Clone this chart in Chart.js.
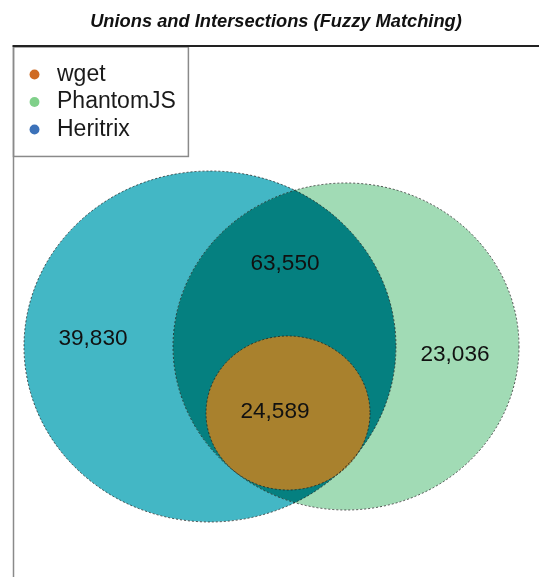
<!DOCTYPE html>
<html>
<head>
<meta charset="utf-8">
<script src="https://cdn.jsdelivr.net/npm/chart.js@4/dist/chart.umd.min.js"></script>
<style>
  html, body { margin: 0; padding: 0; background: #ffffff; }
  #wrap { width: 539px; height: 577px; }
</style>
</head>
<body>
<div id="wrap"><canvas id="c" width="539" height="577"></canvas></div>
<script>
// ---- data (Venn layout in data units, x 0..100 left->right, y 0..100 top->bottom) ----
const chartTitle = 'Unions and Intersections (Fuzzy Matching)';
const sets = ['wget', 'PhantomJS', 'Heritrix'];
const setCenterX = [52.28, 63.31, 37.45];
const setCenterY = [69.06, 56.51, 56.51];
const setRadiusX = [15.59, 32.89, 35.36];
const setRadiusY = [14.53, 30.85, 33.11];
const regionValues = [39830, 63550, 24589, 23036];
const regionX = [15.21, 51.71, 49.81, 84.03];
const regionY = [54.72, 40.57, 68.49, 57.83];

// ---- styles ----
const legendDotColors = ['#cf6a23', '#80d08a', '#3c72b9'];
const setFillColors = ['#a9812d', '#a1dbb5', '#43b7c5'];
const intersectionColor = '#058080';
const FONT = "'Liberation Sans', Arial, sans-serif";
const LEGEND_SIZE = 23;
const LABEL_SIZE = 22.6;
const LEGEND_PAD = 4.5;

function ellipsePath(ctx, chart, i) {
  const xs = chart.scales.x, ys = chart.scales.y;
  const cx = xs.getPixelForValue(setCenterX[i]);
  const cy = ys.getPixelForValue(setCenterY[i]);
  const rx = Math.abs(xs.getPixelForValue(setCenterX[i] + setRadiusX[i]) - cx);
  const ry = Math.abs(ys.getPixelForValue(setCenterY[i] + setRadiusY[i]) - cy);
  ctx.beginPath();
  ctx.ellipse(cx, cy, rx, ry, 0, 0, Math.PI * 2);
}

const vennPlugin = {
  id: 'venn',
  afterLayout(chart) {
    const lg = chart.legend, ca = chart.chartArea;
    lg.left = ca.left + 10.5 - LEGEND_PAD;
    lg.top = ca.top + 16 - LEGEND_PAD;
    lg.right = lg.left + lg.width;
    lg.bottom = lg.top + lg.height;
  },
  beforeDraw(chart) {
    const ctx = chart.ctx, ca = chart.chartArea;
    ctx.save();
    // frame
    ctx.strokeStyle = '#8a8a8a';
    ctx.lineWidth = 1.5;
    ctx.beginPath();
    ctx.moveTo(ca.left + 0.5, ca.top);
    ctx.lineTo(ca.left + 0.5, chart.height + 2);
    ctx.stroke();
    // legend box
    const lg = chart.legend;
    ctx.font = LEGEND_SIZE + 'px ' + FONT;
    let maxW = 0;
    sets.forEach(s => { maxW = Math.max(maxW, ctx.measureText(s).width); });
    const right = lg.left + LEGEND_PAD + 22 + LEGEND_SIZE / 2 + maxW + 12.5;
    const bottom = ca.top + 109.5;
    ctx.strokeRect(ca.left + 0.5, ca.top, right - ca.left - 0.5, bottom - ca.top);
    ctx.strokeStyle = '#222';
    ctx.lineWidth = 2;
    ctx.beginPath();
    ctx.moveTo(ca.left - 0.5, ca.top - 1);
    ctx.lineTo(chart.width + 2, ca.top - 1);
    ctx.stroke();
    ctx.restore();
  },
  beforeDatasetsDraw(chart) {
    const ctx = chart.ctx;
    ctx.save();
    // Heritrix, PhantomJS fills
    [2, 1].forEach(i => {
      ellipsePath(ctx, chart, i);
      ctx.fillStyle = setFillColors[i];
      ctx.fill();
    });
    // intersection of Heritrix & PhantomJS
    ctx.save();
    ellipsePath(ctx, chart, 2);
    ctx.clip();
    ellipsePath(ctx, chart, 1);
    ctx.fillStyle = intersectionColor;
    ctx.fill();
    ctx.restore();
    // wget
    ellipsePath(ctx, chart, 0);
    ctx.fillStyle = setFillColors[0];
    ctx.fill();
    // outlines
    ctx.setLineDash([2, 2]);
    ctx.lineWidth = 1;
    ctx.strokeStyle = 'rgba(30,30,30,0.75)';
    [2, 1, 0].forEach(i => { ellipsePath(ctx, chart, i); ctx.stroke(); });
    ctx.setLineDash([]);
    // region labels
    ctx.fillStyle = '#111';
    ctx.font = LABEL_SIZE + 'px ' + FONT;
    ctx.textAlign = 'center';
    ctx.textBaseline = 'alphabetic';
    regionValues.forEach((v, k) => {
      const px = chart.scales.x.getPixelForValue(regionX[k]);
      const py = chart.scales.y.getPixelForValue(regionY[k]);
      ctx.fillText(v.toLocaleString('en-US'), px, py + 8);
    });
    ctx.restore();
  }
};

new Chart(document.getElementById('c'), {
  type: 'scatter',
  data: {
    datasets: sets.map((s, i) => ({
      label: s,
      data: [{ x: setCenterX[i], y: setCenterY[i] }],
      backgroundColor: legendDotColors[i],
      borderColor: legendDotColors[i],
      borderWidth: 0,
      pointRadius: 0,
      pointHoverRadius: 0,
      pointStyle: 'circle'
    }))
  },
  options: {
    responsive: false,
    animation: false,
    events: [],
    layout: { padding: { left: 13, top: 0, right: 0, bottom: 0 } },
    scales: {
      x: { type: 'linear', min: 0, max: 100, display: false },
      y: { type: 'linear', min: 0, max: 100, reverse: true, display: false }
    },
    plugins: {
      title: {
        display: true,
        text: chartTitle,
        color: '#111',
        font: { family: FONT, size: 18.3, weight: 'bold', style: 'italic' },
        padding: { top: 10.5, bottom: 14.5 }
      },
      legend: {
        display: true,
        position: 'chartArea',
        align: 'start',
        labels: {
          usePointStyle: true,
          boxWidth: 22,
          boxHeight: 7,
          padding: LEGEND_PAD,
          color: '#1a1a1a',
          font: { family: FONT, size: LEGEND_SIZE }
        }
      },
      tooltip: { enabled: false }
    }
  },
  plugins: [vennPlugin]
});
</script>
</body>
</html>
